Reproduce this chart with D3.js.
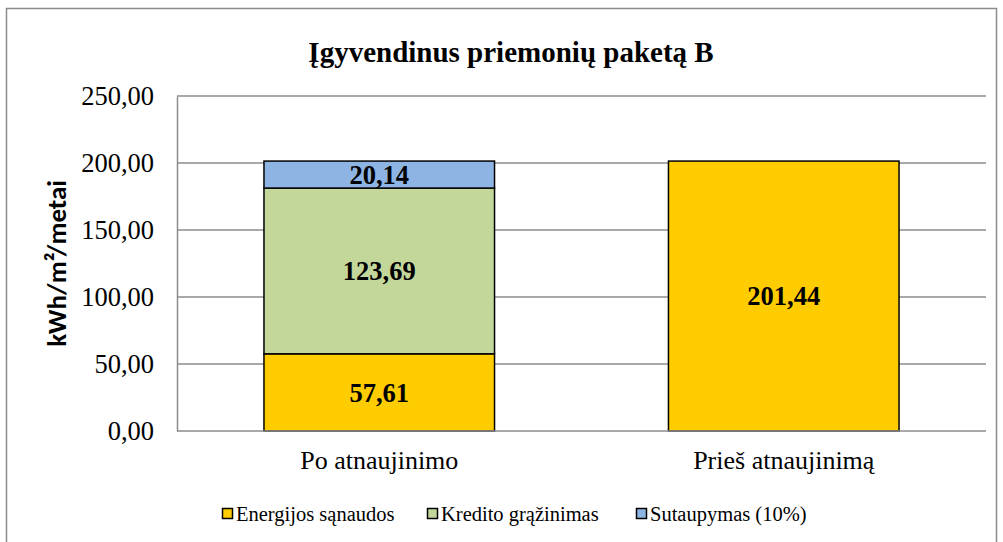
<!DOCTYPE html>
<html>
<head>
    <meta charset="utf-8">
    <title>Įgyvendinus priemonių paketą B</title>
    <script src="https://cdnjs.cloudflare.com/ajax/libs/d3/7.8.5/d3.min.js"></script>
    <style>
        html, body {
            margin: 0;
            padding: 0;
            background: #fff;
        }
    </style>
</head>
<body>
    <div id="chart"></div>
    <script>
        const categories = ["Po atnaujinimo", "Prieš atnaujinimą"];
        const seriesNames = ["Energijos sąnaudos", "Kredito grąžinimas", "Sutaupymas (10%)"];
        const seriesColors = ["#ffcc00", "#c4d79b", "#8db4e2"];
        const energija = [57.61, 201.44];
        const kreditas = [123.69, 0];
        const sutaupymas = [20.14, 0];
        const yTicks = [0, 50, 100, 150, 200, 250];

        const width = 1003, height = 542;
        const margin = { left: 177, right: 17, top: 96, bottom: 111 };
        const serif = "'Liberation Serif', 'Times New Roman', serif";
        const fmt = v => d3.format(".2f")(v).replace(".", ",");

        const svg = d3.select("#chart")
            .append("svg")
            .attr("width", width)
            .attr("height", height);

        // outer chart border
        svg.append("rect")
            .attr("x", 6.5)
            .attr("y", 8.5)
            .attr("width", 990)
            .attr("height", 540)
            .attr("fill", "#fff")
            .attr("stroke", "#8c8c8c")
            .attr("stroke-width", 1.5);

        const x = d3.scaleBand()
            .domain(categories)
            .range([margin.left, width - margin.right])
            .paddingInner(0.43)
            .paddingOuter(0.215);

        const y = d3.scaleLinear()
            .domain([0, 250])
            .range([height - margin.bottom, margin.top]);

        // gridlines
        svg.append("g")
            .selectAll("line")
            .data(yTicks.filter(d => d > 0))
            .enter()
            .append("line")
            .attr("x1", margin.left)
            .attr("x2", width - margin.right)
            .attr("y1", d => y(d))
            .attr("y2", d => y(d))
            .attr("stroke", "#8c8c8c")
            .attr("stroke-width", 1.5);

        const yAxis = d3.axisLeft(y)
            .tickValues(yTicks)
            .tickFormat(fmt)
            .tickSize(0)
            .tickPadding(23);

        const yG = svg.append("g")
            .attr("transform", `translate(${margin.left},0)`)
            .call(yAxis);
        yG.select(".domain").attr("stroke", "#8c8c8c").attr("stroke-width", 1.5);
        yG.selectAll("text")
            .attr("fill", "#000")
            .style("font-size", "26.5px")
            .style("font-family", serif);

        // stacked bars
        const table = categories.map((c, i) => ({
            cat: c,
            "Energijos sąnaudos": energija[i],
            "Kredito grąžinimas": kreditas[i],
            "Sutaupymas (10%)": sutaupymas[i]
        }));
        const stacked = d3.stack().keys(seriesNames)(table);

        stacked.forEach((layer, li) => {
            const g = svg.append("g");
            const parts = layer.filter(d => d[1] - d[0] > 0);
            g.selectAll("rect")
                .data(parts)
                .enter()
                .append("rect")
                .attr("x", d => x(d.data.cat))
                .attr("y", d => y(d[1]))
                .attr("width", x.bandwidth())
                .attr("height", d => y(d[0]) - y(d[1]))
                .attr("fill", seriesColors[li])
                .attr("stroke", "#000")
                .attr("stroke-width", 1.5);

            g.selectAll("text")
                .data(parts)
                .enter()
                .append("text")
                .attr("x", d => x(d.data.cat) + x.bandwidth() / 2)
                .attr("y", d => (y(d[0]) + y(d[1])) / 2)
                .attr("dy", "0.35em")
                .attr("text-anchor", "middle")
                .style("font-size", "26.5px")
                .style("font-weight", "bold")
                .style("font-family", serif)
                .text(d => fmt(d[1] - d[0]));
        });

        // x axis
        const xAxis = d3.axisBottom(x).tickSize(0).tickPadding(20);
        const xG = svg.append("g")
            .attr("transform", `translate(0,${height - margin.bottom})`)
            .call(xAxis);
        xG.select(".domain")
            .attr("d", `M${margin.left},0H${width - margin.right}`)
            .attr("stroke", "#8c8c8c")
            .attr("stroke-width", 1.5);
        xG.selectAll("text")
            .attr("fill", "#000")
            .attr("dy", null)
            .attr("y", 38)
            .style("font-size", "26px")
            .style("font-family", serif);

        // title
        svg.append("text")
            .attr("x", 511)
            .attr("y", 62)
            .attr("text-anchor", "middle")
            .style("font-size", "29px")
            .style("font-weight", "bold")
            .style("font-family", serif)
            .text("Įgyvendinus priemonių paketą B");

        // y label
        svg.append("text")
            .attr("transform", `translate(66,${(y(0) + y(250)) / 2}) rotate(-90)`)
            .attr("text-anchor", "middle")
            .style("font-size", "27px")
            .style("font-weight", "bold")
            .style("font-family", "Carlito, 'Open Sans', sans-serif")
            .text("kWh/m²/metai");

        // legend
        const legendX = [222, 427, 636];
        const legend = svg.append("g");
        seriesNames.forEach((name, i) => {
            legend.append("rect")
                .attr("x", legendX[i] + 0.5)
                .attr("y", 508.5)
                .attr("width", 10)
                .attr("height", 10)
                .attr("fill", seriesColors[i])
                .attr("stroke", "#000")
                .attr("stroke-width", 1.5);
            legend.append("text")
                .attr("x", legendX[i] + 14)
                .attr("y", 521)
                .style("font-size", "20.5px")
                .style("font-family", serif)
                .text(name);
        });
    </script>
</body>
</html>
